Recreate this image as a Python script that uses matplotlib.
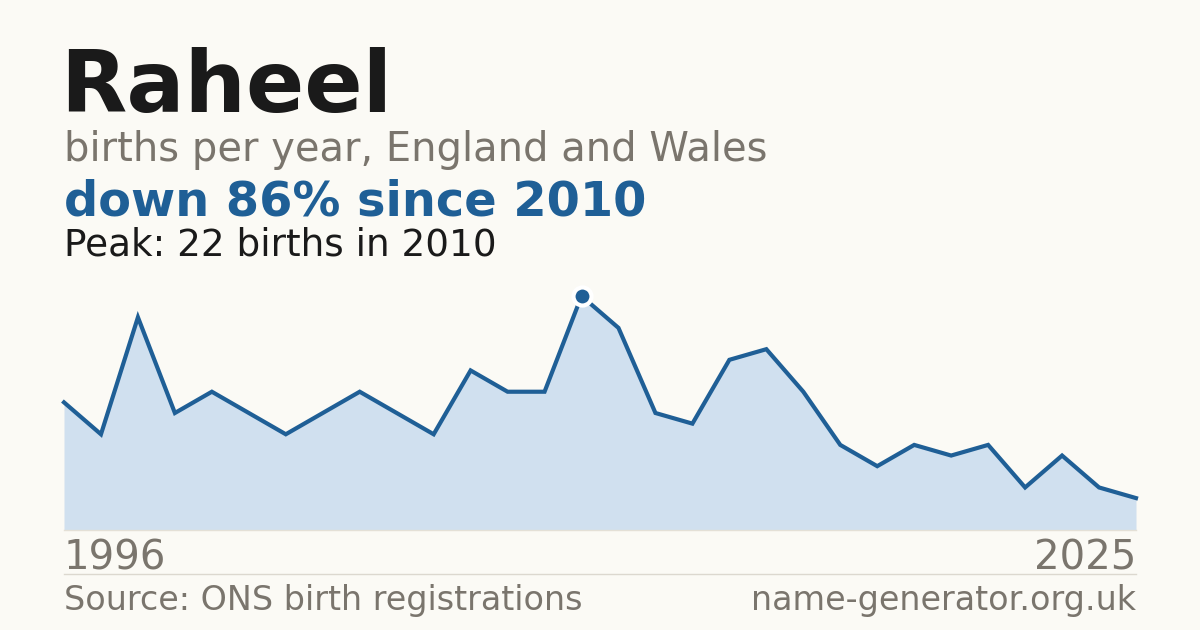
import matplotlib

matplotlib.use("Agg")

import matplotlib.pyplot as plt

plt.rcParams["font.family"] = ["DejaVu Sans"]
plt.rcParams["font.sans-serif"] = ["DejaVu Sans"]

years = list(range(1996, 2026))
births = [12, 9, 20, 11, 13, 11, 9, 11, 13, 11, 9, 15, 13, 13, 22,
          19, 11, 10, 16, 17, 13, 8, 6, 8, 7, 8, 4, 7, 4, 3]

name = "Raheel"
subtitle = "births per year, England and Wales"
headline = "down 86% since 2010"
peak_note = "Peak: 22 births in 2010"
source = "Source: ONS birth registrations"
site = "name-generator.org.uk"

BG = "#fbfaf5"
BLUE = "#1f5f96"
FILL = "#d0e0ef"
GREY = "#7a756d"
DARK = "#1a1a1a"
FONT = "DejaVu Sans"

W, H = 1200, 630
fig = plt.figure(figsize=(W / 100, H / 100), dpi=100, facecolor=BG)


def px(x, y):
    return x / W, 1 - y / H


left, right, bottom, top = 64, 1136, 530, 296
ax = fig.add_axes([left / W, 1 - bottom / H, (right - left) / W, (bottom - top) / H])
ax.set_facecolor(BG)
ax.fill_between(years, births, 0, color=FILL, linewidth=0)
ax.plot(years, births, color=BLUE, linewidth=3, solid_joinstyle="miter", clip_on=False)
peak_i = births.index(max(births))
ax.plot(years[peak_i], births[peak_i], marker="o", markersize=13, color=BLUE,
        markeredgecolor="white", markeredgewidth=3, clip_on=False, zorder=5)
ax.set_xlim(years[0], years[-1])
ax.set_ylim(0, max(births))
ax.axis("off")
ax.axhline(0, color="#e4e0d6", linewidth=1, clip_on=False)

# separator line
fig.add_artist(plt.Line2D([left / W, right / W], [1 - 574 / H] * 2,
                          color="#dcd8cf", linewidth=1))

fig.text(*px(60, 112), name, fontsize=62, fontweight="bold", color=DARK,
         va="baseline", family=FONT)
fig.text(*px(64, 161), subtitle, fontsize=28.8, color=GREY, va="baseline", family=FONT)
fig.text(*px(64, 215), headline, fontsize=34.5, fontweight="bold", color=BLUE,
         va="baseline", family=FONT)
fig.text(*px(64, 255), peak_note, fontsize=26.9, color=DARK, va="baseline", family=FONT)
fig.text(*px(64, 570), str(years[0]), fontsize=29, color=GREY, va="baseline", family=FONT)
fig.text(*px(1136, 570), str(years[-1]), fontsize=29, color=GREY, va="baseline",
         ha="right", family=FONT)
fig.text(*px(64, 610), source, fontsize=24, color=GREY, va="baseline", family=FONT)
fig.text(*px(1136, 610), site, fontsize=24, color=GREY, va="baseline", ha="right",
         family=FONT)

fig.savefig("out.png", dpi=100, facecolor=BG)
